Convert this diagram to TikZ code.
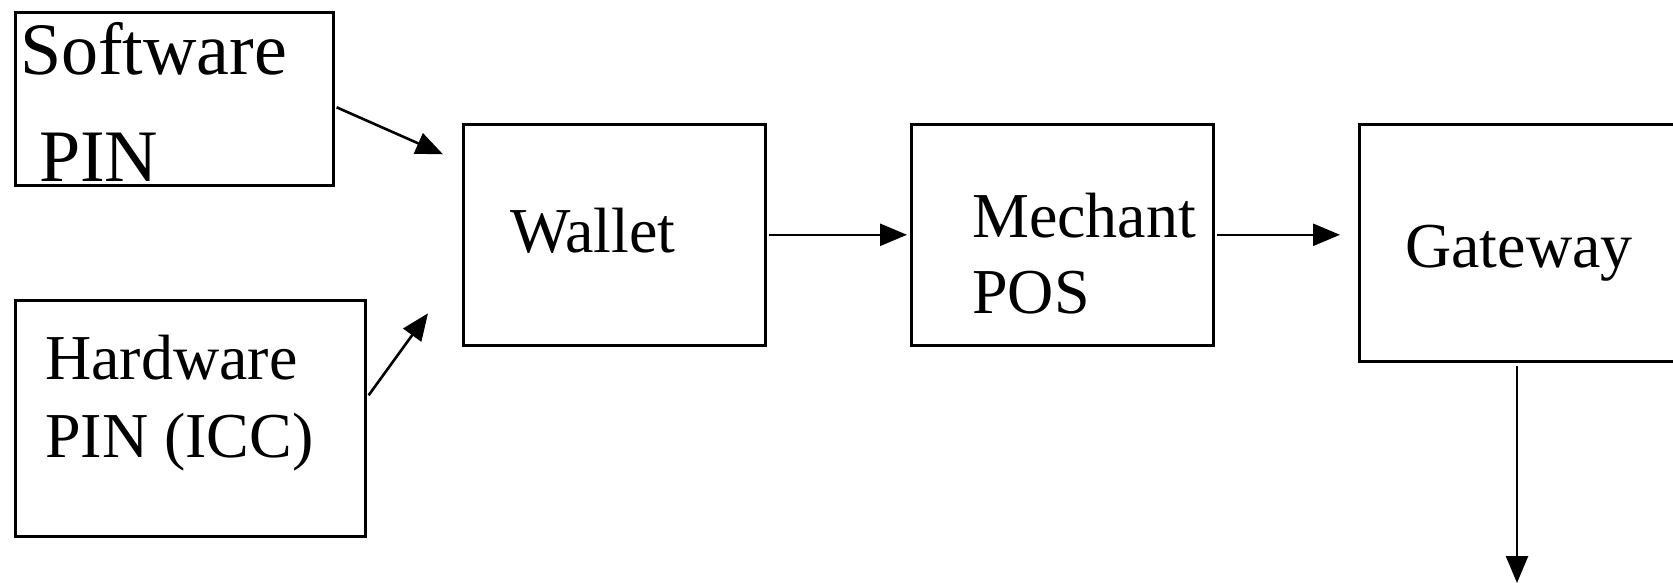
\documentclass[tikz,border=0pt]{standalone}
\usepackage{fontspec}
\setmainfont{Liberation Serif}
\usetikzlibrary{arrows.meta}
\begin{document}
\begin{tikzpicture}[x=1pt,y=-1pt,
  box/.style={draw, line width=2.6pt, rectangle, anchor=north west, inner sep=0pt},
  lbl/.style={anchor=base west, inner sep=0pt, font=\fontsize{64}{64}\selectfont},
  biglbl/.style={anchor=base west, inner sep=0pt, font=\fontsize{74}{74}\selectfont},
  arr/.style={line width=2.6pt, -{Triangle[length=27pt,width=22pt]}}]
\useasboundingbox (0,0) rectangle (1673,583);
\clip (0,0) rectangle (1673,583);

% boxes
\node[box, minimum width=318pt, minimum height=173pt] (sw) at (14,11) {};
\node[box, minimum width=350pt, minimum height=236pt] (hw) at (14,299) {};
\node[box, minimum width=302pt, minimum height=221pt] (wal) at (462,123) {};
\node[box, minimum width=302pt, minimum height=221pt] (mp) at (910,123) {};
\node[box, minimum width=400pt, minimum height=237pt] (gw) at (1358,123) {};

% labels
\node[biglbl] (t1) at (20,75) {Software};
\node[biglbl] (t2) at (39,182) {PIN};
\node[lbl] (t3) at (45,379) {Hardware};
\node[lbl] (t4) at (45,457) {PIN (ICC)};
\node[lbl] (t5) at (510,252) {Wallet};
\node[lbl] (t6) at (972,237) {Mechant};
\node[lbl] (t7) at (972,313) {POS};
\node[lbl] (t8) at (1405,267) {Gateway};

% connectors
\coordinate (out) at (1517,583);
\draw[arr] ([shift={(2,8.5)}]sw.east) -- ([shift={(-19,-80.5)}]wal.west);
\draw[arr] ([shift={(2,-23)}]hw.east) -- ([shift={(-34,78.5)}]wal.west);
\draw[arr, shorten <=2pt, shorten >=3pt] (wal.east) -- (mp.west);
\draw[arr, shorten <=2pt, shorten >=18pt] (mp.east) -- (mp.east -| gw.west);
\draw[arr, shorten <=3pt] (gw.south -| out) -- (out);
\end{tikzpicture}
\end{document}
